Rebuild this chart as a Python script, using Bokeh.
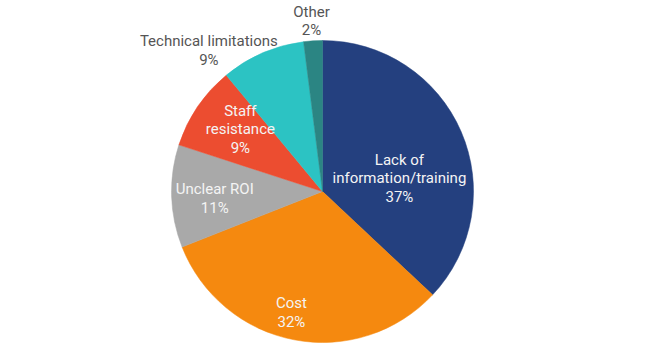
import math
from bokeh.plotting import figure
from bokeh.models import Range1d, ColumnDataSource
from bokeh.core.properties import value
from bokeh.embed import file_html
from bokeh.resources import INLINE

# ---- data ----
categories = ["Lack of\ninformation/training", "Cost", "Unclear ROI",
              "Staff\nresistance", "Technical limitations", "Other"]
shares = [37, 32, 11, 9, 9, 2]

# ---- styles / layout ----
colors = ["#24407f", "#f5890f", "#a9a9a9", "#ec4d30", "#2cc3c3", "#2b8583"]
label_colors = ["#f4f4f4", "#f4f4f4", "#f4f4f4", "#f4f4f4", "#555555", "#555555"]
# label anchor in polar form (degrees, pixels from centre)
label_polar = [(9.6, 78), (-104.4, 125), (-176.3, 108), (142.9, 103), (128.9, 181), (93.7, 171)]

W, H = 645, 350
cx, cy, R = 322, 350 - 191, 151

total = float(sum(shares))
starts, ends = [], []
cum = 0.0
for v in shares:
    starts.append(math.radians(90 - cum / total * 360))
    cum += v
    ends.append(math.radians(90 - cum / total * 360))

p = figure(width=W, height=H, output_backend="svg", toolbar_location=None,
           x_range=Range1d(0, W), y_range=Range1d(0, H), min_border=0)
p.axis.visible = False
p.grid.visible = False
p.outline_line_color = None
p.background_fill_color = "white"
p.border_fill_color = "white"

src = ColumnDataSource(dict(start=starts, end=ends, color=colors))
p.wedge(x=cx, y=cy, radius=R, start_angle="start", end_angle="end",
        direction="clock", fill_color="color", line_color="color", line_width=0.5,
        source=src)

line_h = 18.5
for cat, v, col, (ang, rad) in zip(categories, shares, label_colors, label_polar):
    lines = cat.split("\n") + [f"{v}%"]
    lx = cx + rad * math.cos(math.radians(ang))
    ly = cy + rad * math.sin(math.radians(ang))
    n = len(lines)
    ys = [ly + (n - 1) / 2 * line_h - i * line_h for i in range(n)]
    p.text(x=[lx] * n, y=ys, text=lines, text_font=value("Roboto"),
           text_font_size="15px", text_color=col, text_align="center",
           text_baseline="middle")

open("out.html", "w").write(file_html(p, INLINE))
